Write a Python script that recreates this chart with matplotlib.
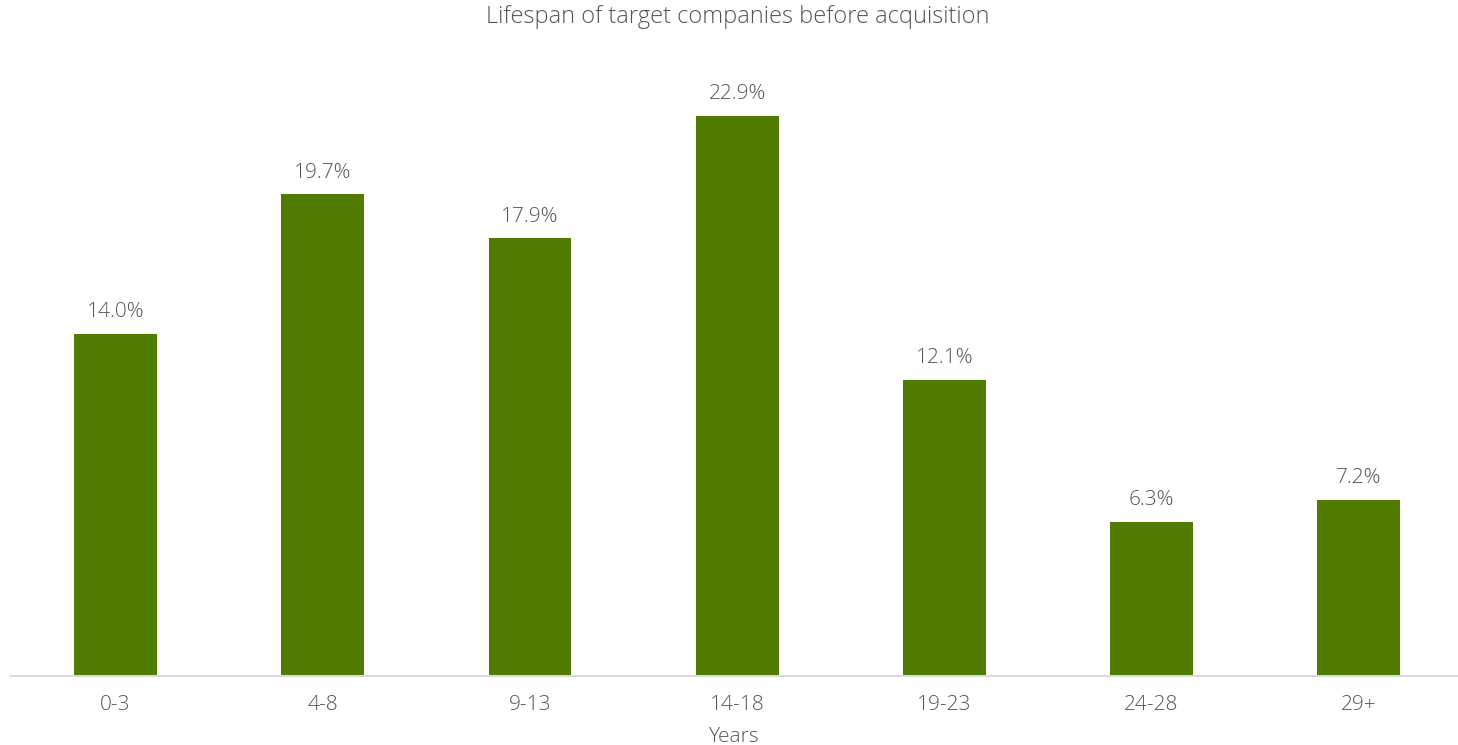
import matplotlib
matplotlib.use("Agg")
import matplotlib.pyplot as plt

categories = ["0-3", "4-8", "9-13", "14-18", "19-23", "24-28", "29+"]
shares = [14.0, 19.7, 17.9, 22.9, 12.1, 6.3, 7.2]

plt.rcParams["font.family"] = ["Open Sans", "DejaVu Sans"]

text_color = "#555555"
bar_color = "#507A00"

fig = plt.figure(figsize=(14.58, 7.45), dpi=100)
ax = fig.add_axes([11 / 1458, 69 / 745, 1446 / 1458, 616 / 745])

x = range(len(categories))
ax.bar(x, shares, width=0.4, color=bar_color, zorder=2)

for xi, v in zip(x, shares):
    ax.annotate(f"{v:.1f}%", (xi, v), xytext=(0, 8.5), textcoords="offset points",
                ha="center", va="bottom", fontsize=15, color=text_color,
                fontweight="light")

ax.set_xlim(-0.505, 6.475)
ax.set_ylim(0, 616 / 24.45)
ax.set_xticks(list(x))
ax.set_xticklabels(categories, fontsize=15, color=text_color, fontweight="light")
ax.tick_params(axis="x", length=0, pad=14)
ax.set_yticks([])
for side in ["top", "left", "right"]:
    ax.spines[side].set_visible(False)
ax.spines["bottom"].set_color("#D9D9D9")
ax.spines["bottom"].set_linewidth(1.5)

ax.set_xlabel("Years", fontsize=15, color=text_color, fontweight="light", labelpad=8)

fig.text(0.506, 1 - 17 / 745, "Lifespan of target companies before acquisition",
         ha="center", va="center", fontsize=17, color=text_color, fontweight="light")

fig.savefig("out.png", dpi=100, facecolor="white")
